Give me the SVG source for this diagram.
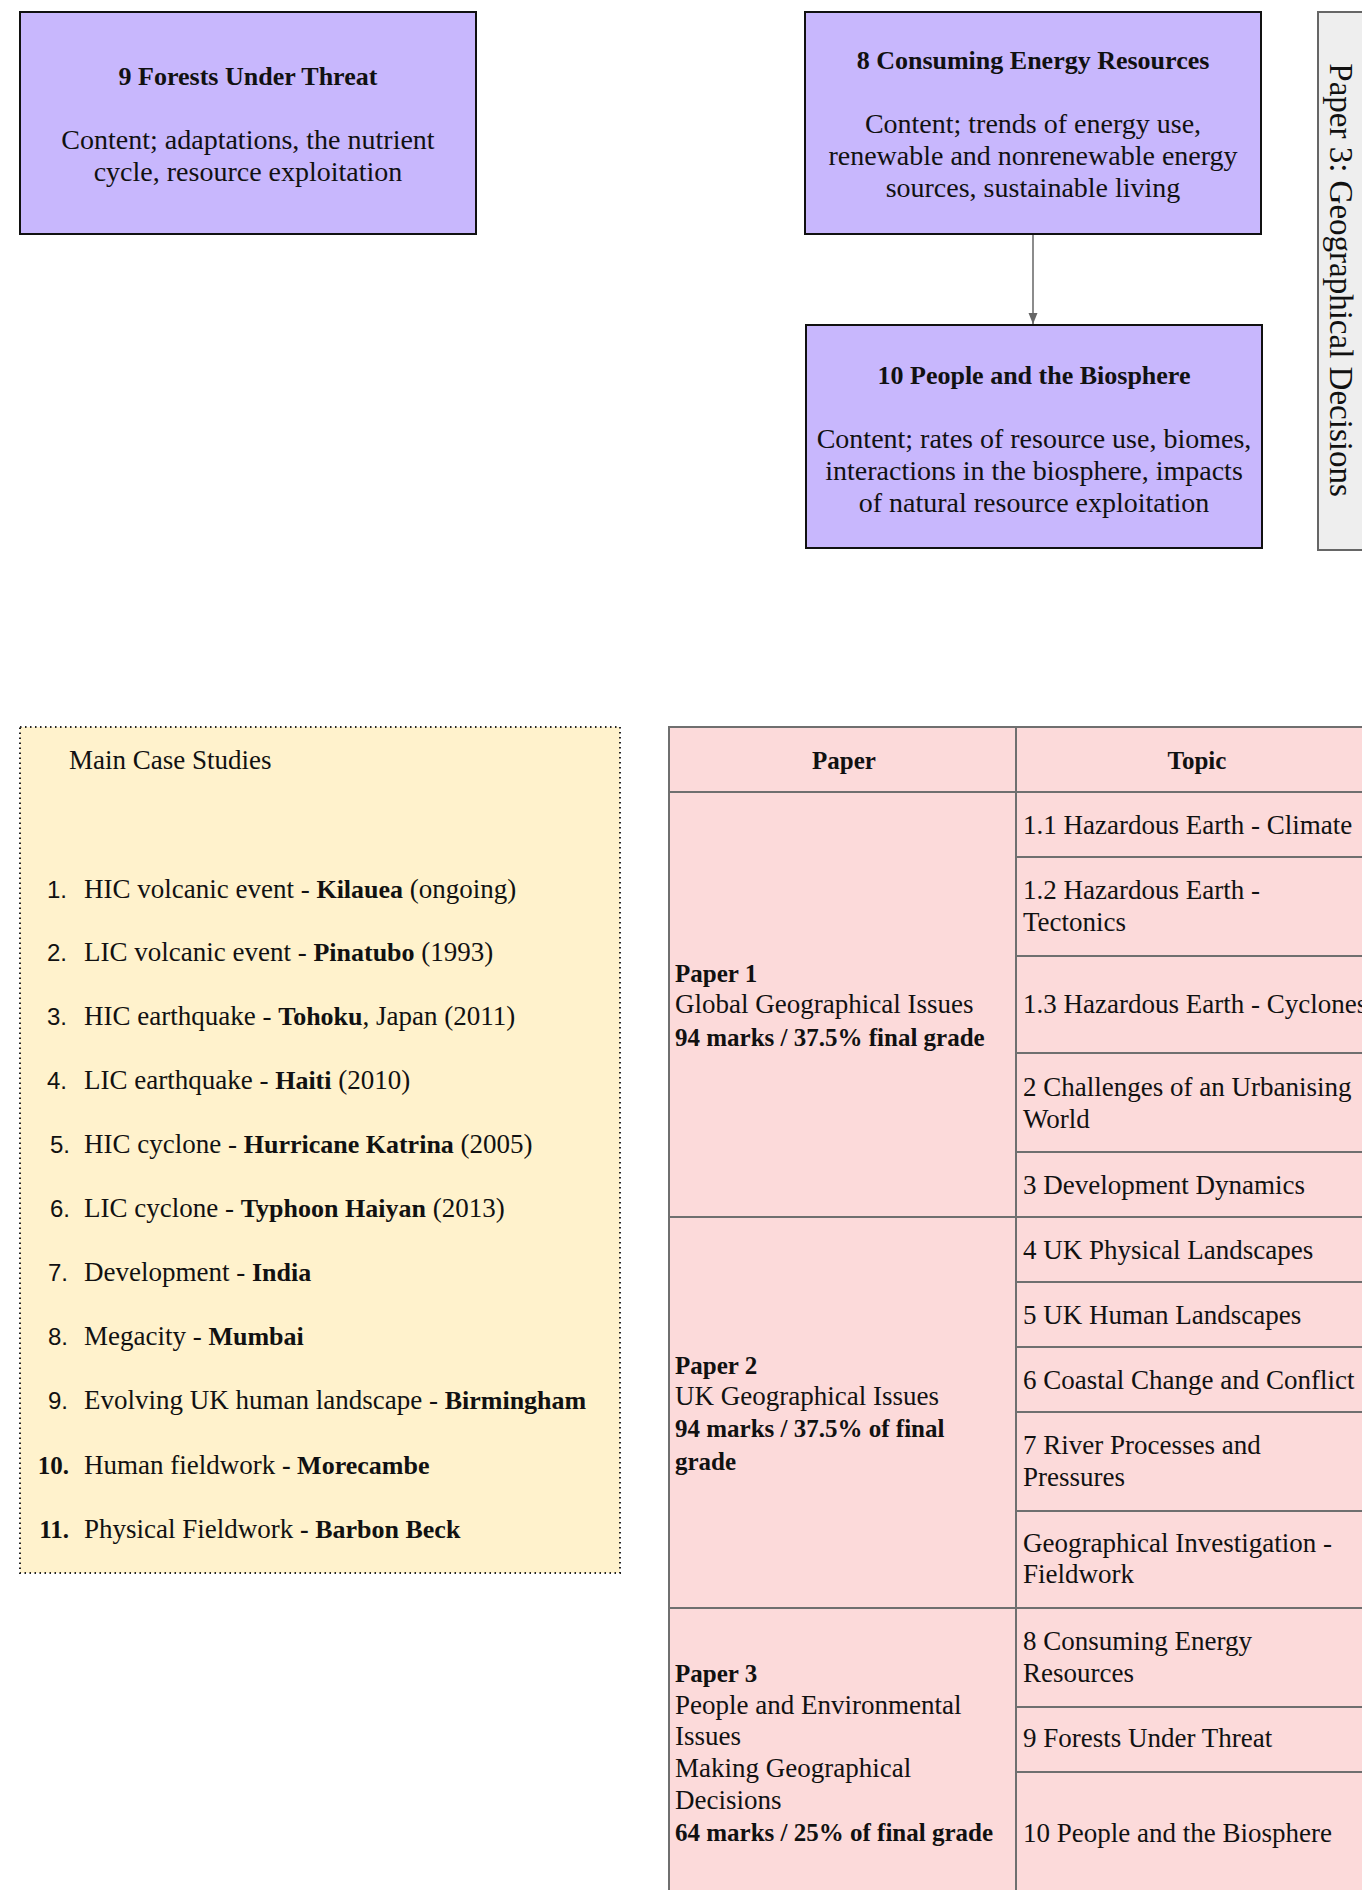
<svg xmlns="http://www.w3.org/2000/svg" width="1362" height="1890" viewBox="0 0 1362 1890">
  <style>
    text { font-family: "Liberation Serif", "Times New Roman", serif; font-size: 27px; fill: #111; }
    .b { font-weight: bold; font-size: 26px; }
    .tb { font-weight: bold; font-size: 25px; }
    .title { font-weight: bold; font-size: 26px; text-anchor: middle; }
    .body { font-size: 28px; text-anchor: middle; }
    .mid { text-anchor: middle; }
    .side { font-size: 33px; text-anchor: middle; dominant-baseline: central; }
    .num { font-family: "Liberation Sans", Arial, sans-serif; font-size: 24px; text-anchor: end; }
    .numb { font-weight: bold; font-size: 25px; text-anchor: end; }
    .topic { fill: #c8b7fd; stroke: #111; stroke-width: 2; }
    .cell { fill: #fcdada; stroke: #6f6f6f; stroke-width: 2; }
    .grid { stroke: #6f6f6f; stroke-width: 2; fill: none; }
  </style>
  <defs>
    <marker id="arrow" markerWidth="12" markerHeight="12" refX="11" refY="6" orient="auto" markerUnits="userSpaceOnUse">
      <path d="M0,1.5 L11,6 L0,10.5 Z" fill="#666"/>
    </marker>
  </defs>

  <!-- Topic nodes -->
  <g id="node-9-forests">
    <rect class="topic" x="20" y="12" width="456" height="222"/>
    <text class="title" x="248" y="85">9 Forests Under Threat</text>
    <text class="body" x="248" y="149">Content; adaptations, the nutrient</text>
    <text class="body" x="248" y="181">cycle, resource exploitation</text>
  </g>

  <g id="node-8-energy">
    <rect class="topic" x="805" y="12" width="456" height="222"/>
    <text class="title" x="1033" y="69">8 Consuming Energy Resources</text>
    <text class="body" x="1033" y="133">Content; trends of energy use,</text>
    <text class="body" x="1033" y="165">renewable and nonrenewable energy</text>
    <text class="body" x="1033" y="197">sources, sustainable living</text>
  </g>

  <g id="node-10-biosphere">
    <rect class="topic" x="806" y="325" width="456" height="223"/>
    <text class="title" x="1034" y="384">10 People and the Biosphere</text>
    <text class="body" x="1034" y="448">Content; rates of resource use, biomes,</text>
    <text class="body" x="1034" y="480">interactions in the biosphere, impacts</text>
    <text class="body" x="1034" y="512">of natural resource exploitation</text>
  </g>

  <g id="node-paper3-label">
    <rect x="1318" y="12" width="60" height="538" fill="#eeeeee" stroke="#666" stroke-width="2"/>
    <text class="side" transform="translate(1341,280) rotate(90)">Paper 3: Geographical Decisions</text>
  </g>

  <!-- Connectors -->
  <g id="connectors">
    <line x1="1033" y1="235" x2="1033" y2="324" stroke="#666" stroke-width="1.5" marker-end="url(#arrow)"/>
  </g>

  <!-- Case study list -->
  <g id="node-case-studies">
    <rect x="20" y="727" width="600" height="846" fill="#fff2cc" stroke="#222" stroke-width="2" stroke-dasharray="1.5 3.5"/>
    <text x="69" y="769">Main Case Studies</text>

    <text class="num" x="67" y="898">1.</text>
    <text x="84" y="898">HIC volcanic event - <tspan class="b">Kilauea</tspan> (ongoing)</text>
    <text class="num" x="67" y="961">2.</text>
    <text x="84" y="961">LIC volcanic event - <tspan class="b">Pinatubo</tspan> (1993)</text>
    <text class="num" x="67" y="1025">3.</text>
    <text x="84" y="1025">HIC earthquake - <tspan class="b">Tohoku</tspan>, Japan (2011)</text>
    <text class="num" x="67" y="1089">4.</text>
    <text x="84" y="1089">LIC earthquake - <tspan class="b">Haiti</tspan> (2010)</text>
    <text class="num" x="70" y="1153">5.</text>
    <text x="84" y="1153">HIC cyclone - <tspan class="b">Hurricane Katrina</tspan> (2005)</text>
    <text class="num" x="70" y="1217">6.</text>
    <text x="84" y="1217">LIC cyclone - <tspan class="b">Typhoon Haiyan</tspan> (2013)</text>
    <text class="num" x="68" y="1281">7.</text>
    <text x="84" y="1281">Development - <tspan class="b">India</tspan></text>
    <text class="num" x="68" y="1345">8.</text>
    <text x="84" y="1345">Megacity - <tspan class="b">Mumbai</tspan></text>
    <text class="num" x="68" y="1409">9.</text>
    <text x="84" y="1409">Evolving UK human landscape - <tspan class="b">Birmingham</tspan></text>
    <text class="numb" x="69" y="1474">10.</text>
    <text x="84" y="1474">Human fieldwork <tspan class="b">- Morecambe</tspan></text>
    <text class="numb" x="69" y="1538">11.</text>
    <text x="84" y="1538">Physical Fieldwork <tspan class="b">- Barbon Beck</tspan></text>
  </g>

  <!-- Specification table -->
  <g id="node-table">
    <rect class="cell" x="669" y="727" width="720" height="1180"/>
    <path class="grid" d="M1016,727 V1900
      M669,792 H1390
      M1016,857 H1390 M1016,956 H1390 M1016,1053 H1390 M1016,1152 H1390
      M669,1217 H1390
      M1016,1282 H1390 M1016,1347 H1390 M1016,1412 H1390 M1016,1511 H1390
      M669,1608 H1390
      M1016,1707 H1390 M1016,1772 H1390"/>

    <text class="tb mid" x="844" y="769">Paper</text>
    <text class="tb mid" x="1197" y="769">Topic</text>

    <text x="675" y="982" class="tb">Paper 1</text>
    <text x="675" y="1013">Global Geographical Issues</text>
    <text x="675" y="1046" class="tb">94 marks / 37.5% final grade</text>

    <text x="675" y="1374" class="tb">Paper 2</text>
    <text x="675" y="1405">UK Geographical Issues</text>
    <text x="675" y="1437" class="tb">94 marks / 37.5% of final</text>
    <text x="675" y="1470" class="tb">grade</text>

    <text x="675" y="1682" class="tb">Paper 3</text>
    <text x="675" y="1714">People and Environmental</text>
    <text x="675" y="1745">Issues</text>
    <text x="675" y="1777">Making Geographical</text>
    <text x="675" y="1809">Decisions</text>
    <text x="675" y="1841" class="tb">64 marks / 25% of final grade</text>

    <text x="1023" y="834">1.1 Hazardous Earth - Climate</text>
    <text x="1023" y="899">1.2 Hazardous Earth -</text>
    <text x="1023" y="931">Tectonics</text>
    <text x="1023" y="1013">1.3 Hazardous Earth - Cyclones</text>
    <text x="1023" y="1096">2 Challenges of an Urbanising</text>
    <text x="1023" y="1128">World</text>
    <text x="1023" y="1194">3 Development Dynamics</text>
    <text x="1023" y="1259">4 UK Physical Landscapes</text>
    <text x="1023" y="1324">5 UK Human Landscapes</text>
    <text x="1023" y="1389">6 Coastal Change and Conflict</text>
    <text x="1023" y="1454">7 River Processes and</text>
    <text x="1023" y="1486">Pressures</text>
    <text x="1023" y="1552">Geographical Investigation -</text>
    <text x="1023" y="1583">Fieldwork</text>
    <text x="1023" y="1650">8 Consuming Energy</text>
    <text x="1023" y="1682">Resources</text>
    <text x="1023" y="1747">9 Forests Under Threat</text>
    <text x="1023" y="1842">10 People and the Biosphere</text>
  </g>
</svg>
